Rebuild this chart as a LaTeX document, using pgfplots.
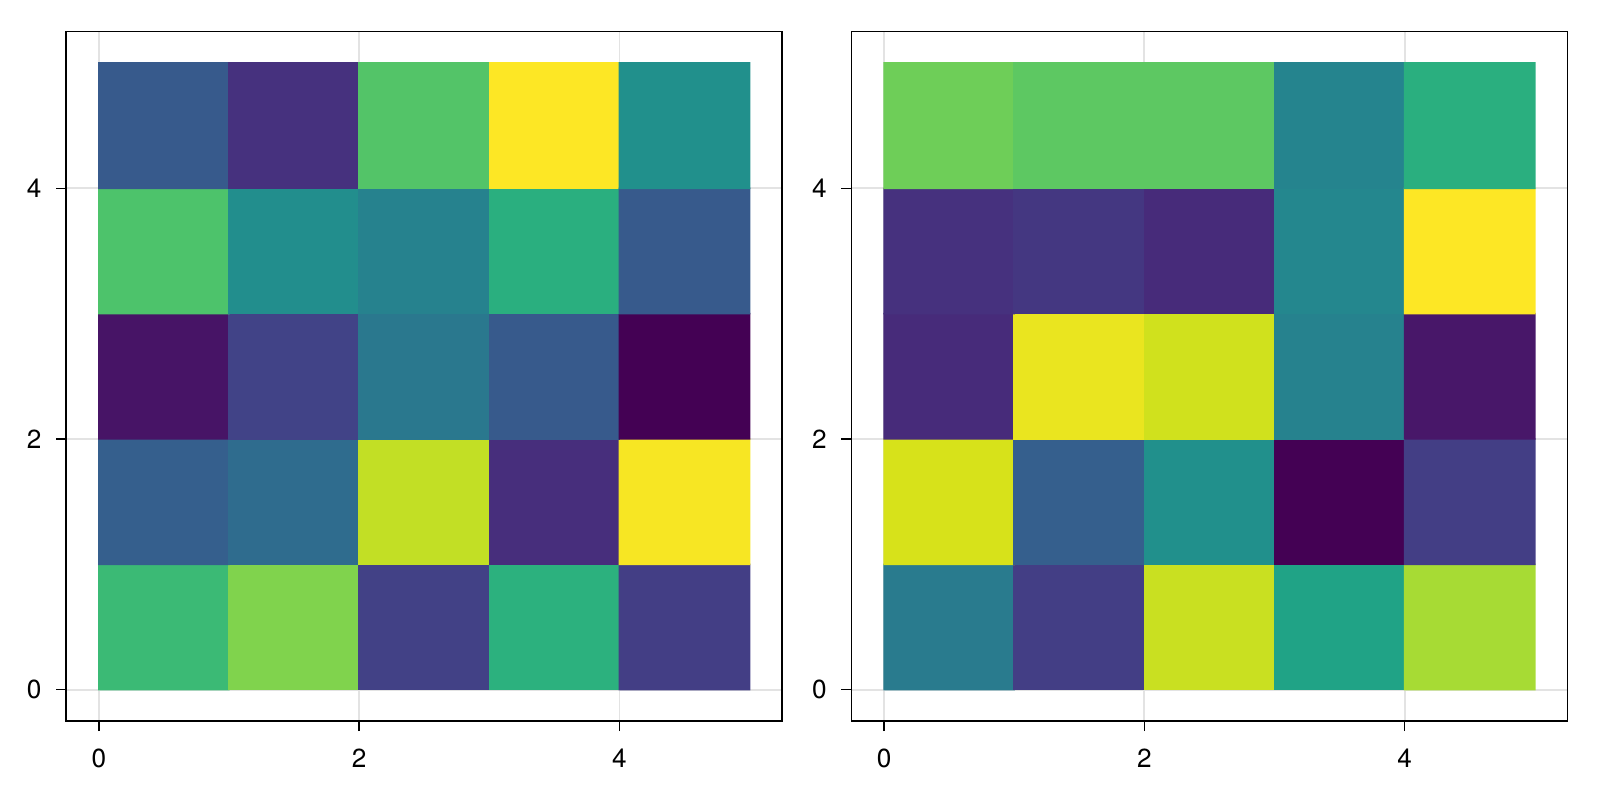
\documentclass[border=0pt]{standalone}
\usepackage{fontspec}
\setmainfont{TeX Gyre Heros}
\usepackage{pgfplots}
\pgfplotsset{compat=1.18}
\usepackage{pgfplotstable}

\pgfplotstableread{
x y c
0.5 0.5 0.68
1.5 0.5 0.81
2.5 0.5 0.19
3.5 0.5 0.64
4.5 0.5 0.18
0.5 1.5 0.30
1.5 1.5 0.35
2.5 1.5 0.91
3.5 1.5 0.13
4.5 1.5 0.99
0.5 2.5 0.05
1.5 2.5 0.20
2.5 2.5 0.40
3.5 2.5 0.28
4.5 2.5 0.00
0.5 3.5 0.72
1.5 3.5 0.49
2.5 3.5 0.44
3.5 3.5 0.63
4.5 3.5 0.28
0.5 4.5 0.28
1.5 4.5 0.14
2.5 4.5 0.73
3.5 4.5 1.00
4.5 4.5 0.50
}\leftdata

\pgfplotstableread{
x y c
0.5 0.5 0.41
1.5 0.5 0.18
2.5 0.5 0.92
3.5 0.5 0.58
4.5 0.5 0.87
0.5 1.5 0.94
1.5 1.5 0.30
2.5 1.5 0.50
3.5 1.5 0.00
4.5 1.5 0.18
0.5 2.5 0.12
1.5 2.5 0.97
2.5 2.5 0.93
3.5 2.5 0.44
4.5 2.5 0.06
0.5 3.5 0.14
1.5 3.5 0.16
2.5 3.5 0.12
3.5 3.5 0.46
4.5 3.5 1.00
0.5 4.5 0.78
1.5 4.5 0.75
2.5 4.5 0.75
3.5 4.5 0.45
4.5 4.5 0.63
}\rightdata

\pgfplotsset{
  heat/.style={
    scale only axis,
    width=7.02cm, height=6.76cm,
    xmin=-0.25, xmax=5.25, ymin=-0.25, ymax=5.25,
    xtick={0,2,4}, ytick={0,2,4},
    xtick pos=bottom, ytick pos=left,
    tick align=outside,
    major tick length=0.1cm,
    tick style={black, line width=0.4pt},
    axis line style={line width=0.45pt},
    grid=major,
    grid style={color=black!11, line width=0.5pt},
    colormap/viridis,
    point meta min=0, point meta max=1,
    /pgf/number format/assume math mode=true,
    ticklabel style={font=\fontsize{7.3pt}{8pt}\selectfont},
    xticklabel style={yshift=-0.05cm},
    yticklabel style={xshift=-0.02cm},
  }
}

\begin{document}
\begin{tikzpicture}
\begin{axis}[heat, at={(0cm,0cm)}, anchor=south west]
\addplot[matrix plot*, mesh/cols=5, point meta=explicit] table[x=x, y=y, meta=c] {\leftdata};
\end{axis}
\begin{axis}[heat, at={(7.70cm,0cm)}, anchor=south west]
\addplot[matrix plot*, mesh/cols=5, point meta=explicit] table[x=x, y=y, meta=c] {\rightdata};
\end{axis}
\pgfresetboundingbox
\path[use as bounding box] (-0.65cm,-0.775cm) rectangle (15.04cm,7.07cm);
\end{tikzpicture}
\end{document}
